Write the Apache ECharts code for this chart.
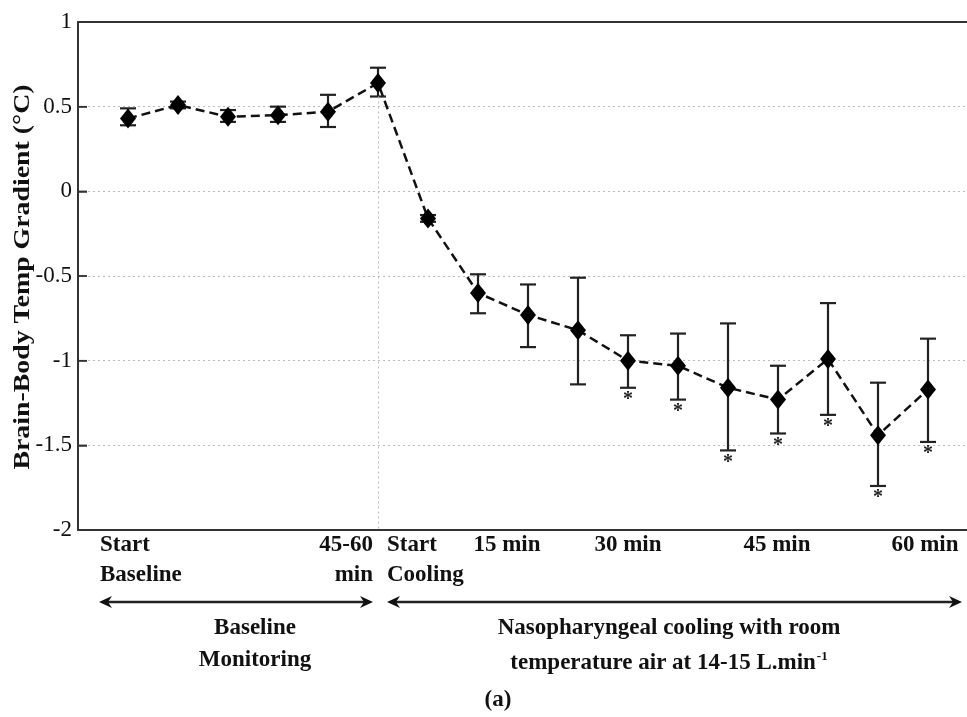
<!DOCTYPE html>
<html>
<head>
<meta charset="utf-8">
<script src="https://cdn.jsdelivr.net/npm/echarts@6/dist/echarts.min.js"></script>
<style>
  html, body { margin: 0; padding: 0; background: #fff; overflow: hidden; }
  /* plot frame runs past the right edge of the picture, so the canvas is wider than the window */
  #chart { width: 990px; height: 717px; }
</style>
</head>
<body>
<div id="chart"></div>
<script>
// sample positions (one every 5 min of the protocol)
const timeIdx = [0, 1, 2, 3, 4, 5, 6, 7, 8, 9, 10, 11, 12, 13, 14, 15, 16];
const meanVals = [0.43, 0.51, 0.44, 0.45, 0.47, 0.64, -0.16, -0.60, -0.73, -0.82, -1.00, -1.03, -1.16, -1.23, -0.99, -1.44, -1.17];
const upperVals = [0.49, 0.53, 0.48, 0.50, 0.57, 0.73, -0.14, -0.49, -0.55, -0.51, -0.85, -0.84, -0.78, -1.03, -0.66, -1.13, -0.87];
const lowerVals = [0.39, 0.49, 0.41, 0.41, 0.38, 0.56, -0.18, -0.72, -0.92, -1.14, -1.16, -1.23, -1.53, -1.43, -1.32, -1.74, -1.48];
const significant = [0, 0, 0, 0, 0, 0, 0, 0, 0, 0, 1, 1, 1, 1, 1, 1, 1];

const yTicks = [-2, -1.5, -1, -0.5, 0, 0.5, 1];
const coolingStart = 5;
const xMin = -1;

const FONT = '"Liberation Serif", "DejaVu Serif", serif';
const INK = '#111';
const FRAME = { color: '#333', width: 2 };

const lineData = timeIdx.map((x, i) => [x, meanVals[i]]);
const errData = timeIdx.map((x, i) => [x, upperVals[i], lowerVals[i], significant[i]]);
const tickData = yTicks.map(v => [xMin, v]);

function boldText(x, y, text, align) {
  return {
    type: 'text', x: x, y: y, z: 10,
    style: {
      text: text, fill: INK, font: 'bold 23px ' + FONT,
      textAlign: align || 'left', textVerticalAlign: 'middle'
    }
  };
}

function arrow(x1, x2, y) {
  return [
    { type: 'line', z: 10, shape: { x1: x1 + 6, y1: y, x2: x2 - 6, y2: y },
      style: { stroke: '#222', lineWidth: 2.5 } },
    { type: 'polygon', z: 10, shape: { points: [[x1, y], [x1 + 13, y - 6], [x1 + 9, y], [x1 + 13, y + 6]] },
      style: { fill: '#111' } },
    { type: 'polygon', z: 10, shape: { points: [[x2, y], [x2 - 13, y - 6], [x2 - 9, y], [x2 - 13, y + 6]] },
      style: { fill: '#111' } }
  ];
}

const chart = echarts.init(document.getElementById('chart'));

const hiddenX = {
  type: 'value', min: xMin, max: 17,
  axisTick: { show: false }, axisLabel: { show: false }, splitLine: { show: false }
};

const option = {
  animation: false,
  backgroundColor: '#fff',
  grid: { left: 78, top: 22, width: 900, height: 508 },
  xAxis: [
    Object.assign({}, hiddenX, { position: 'bottom', axisLine: { show: true, onZero: false, lineStyle: FRAME } }),
    Object.assign({}, hiddenX, { position: 'top', axisLine: { show: true, onZero: false, lineStyle: FRAME } })
  ],
  yAxis: {
    type: 'value', min: yTicks[0], max: yTicks[yTicks.length - 1], interval: 0.5,
    axisLine: { show: true, onZero: false, lineStyle: FRAME },
    axisTick: { show: true, inside: true, length: 9, lineStyle: { color: '#333', width: 1.5 } },
    axisLabel: {
      color: INK, fontFamily: FONT, fontSize: 23, margin: 6,
      formatter: v => String(v)
    },
    splitLine: {
      show: true, showMinLine: false, showMaxLine: false,
      lineStyle: { color: '#bbb', type: [2, 3], width: 1 }
    }
  },
  series: [
    {
      // inward tick marks on the left frame
      type: 'custom',
      z: 4,
      silent: true,
      data: tickData,
      renderItem: function (params, api) {
        const p = api.coord([api.value(0), api.value(1)]);
        return {
          type: 'group',
          children: [{
            type: 'line',
            shape: { x1: p[0], y1: p[1], x2: p[0] + 9, y2: p[1] },
            style: { stroke: '#333', lineWidth: 1.5 }
          }]
        };
      }
    },
    {
      type: 'custom',
      z: 2,
      data: errData,
      renderItem: function (params, api) {
        const x = api.value(0);
        const hi = api.coord([x, api.value(1)]);
        const lo = api.coord([x, api.value(2)]);
        const hw = 8;
        const st = { stroke: '#222', lineWidth: 2.2 };
        const kids = [
          { type: 'line', shape: { x1: hi[0], y1: hi[1], x2: lo[0], y2: lo[1] }, style: st },
          { type: 'line', shape: { x1: hi[0] - hw, y1: hi[1], x2: hi[0] + hw, y2: hi[1] }, style: st },
          { type: 'line', shape: { x1: lo[0] - hw, y1: lo[1], x2: lo[0] + hw, y2: lo[1] }, style: st }
        ];
        if (api.value(3)) {
          kids.push({
            type: 'text', x: lo[0], y: lo[1] + 12,
            style: { text: '*', fill: '#222', font: 'bold 20px ' + FONT,
              textAlign: 'center', textVerticalAlign: 'middle' }
          });
        }
        return { type: 'group', children: kids };
      }
    },
    {
      type: 'line',
      z: 3,
      data: lineData,
      symbol: 'diamond',
      symbolSize: [16, 20],
      itemStyle: { color: '#000' },
      lineStyle: { color: INK, width: 2.5, type: [9, 5] },
      markLine: {
        silent: true, symbol: 'none', label: { show: false },
        lineStyle: { color: '#bbb', type: [2, 3], width: 1 },
        data: [[
          { coord: [timeIdx[coolingStart], lowerVals[coolingStart]] },
          { coord: [timeIdx[coolingStart], yTicks[0]] }
        ]]
      }
    }
  ],
  graphic: [
    {
      type: 'text', x: 23, y: 277, rotation: Math.PI / 2, scaleX: 1.16, z: 10,
      style: {
        text: 'Brain-Body Temp Gradient (\u00B0C)', fill: INK, font: 'bold 24px ' + FONT,
        textAlign: 'center', textVerticalAlign: 'middle'
      }
    },
    boldText(100, 545, 'Start'),
    boldText(100, 575, 'Baseline'),
    boldText(373, 545, '45-60', 'right'),
    boldText(373, 575, 'min', 'right'),
    boldText(387, 545, 'Start'),
    boldText(387, 575, 'Cooling'),
    boldText(507, 545, '15 min', 'center'),
    boldText(628, 545, '30 min', 'center'),
    boldText(777, 545, '45 min', 'center'),
    boldText(925, 545, '60 min', 'center'),
    ...arrow(99, 373, 602),
    ...arrow(387, 962, 602),
    boldText(255, 628, 'Baseline', 'center'),
    boldText(255, 660, 'Monitoring', 'center'),
    boldText(669, 628, 'Nasopharyngeal cooling with room', 'center'),
    {
      type: 'text', x: 669, y: 663, z: 10,
      style: {
        text: 'temperature air at 14-15 L.min{s|-1}', fill: INK, font: 'bold 23px ' + FONT,
        textAlign: 'center', textVerticalAlign: 'middle',
        rich: { s: { font: 'bold 13px ' + FONT, fill: INK, verticalAlign: 'top', padding: [0, 0, 12, 1] } }
      }
    },
    boldText(498, 700, '(a)', 'center')
  ]
};

chart.setOption(option);
</script>
</body>
</html>
